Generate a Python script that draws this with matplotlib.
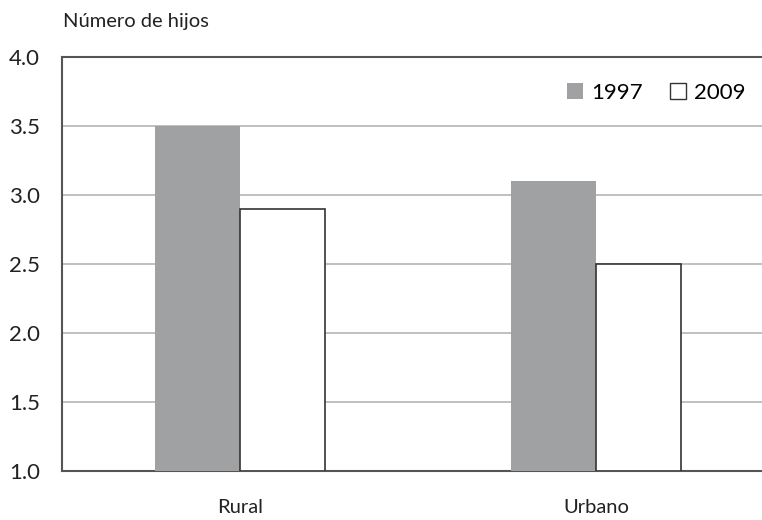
import matplotlib
matplotlib.use('Agg')
import matplotlib.pyplot as plt
import numpy as np
from matplotlib.patches import Patch

categories = ['Rural', 'Urbano']
series_names = ['1997', '2009']
values_1997 = [3.5, 3.1]
values_2009 = [2.9, 2.5]
y_ticks = [1.0, 1.5, 2.0, 2.5, 3.0, 3.5, 4.0]

plt.rcParams['font.family'] = ['Lato', 'DejaVu Sans']

fig = plt.figure(figsize=(7.62, 5.2), dpi=100)
ax = fig.add_axes([62 / 762, 49 / 520, 700 / 762, 414 / 520])

x = np.arange(len(categories))
width = 0.239
bottom = 1.0
ax.bar(x - width / 2, [v - bottom for v in values_1997], width, bottom=bottom,
       color='#a0a1a3', edgecolor='none', zorder=3)
ax.bar(x + width / 2, [v - bottom for v in values_2009], width, bottom=bottom,
       color='white', edgecolor='#333333', linewidth=1.2, zorder=3)

ax.set_xlim(-0.5, 1.466)
ax.set_ylim(1.0, 4.0)
ax.set_yticks(y_ticks)
ax.set_yticklabels([f'{t:.1f}' for t in y_ticks], fontsize=16, color='#222222')
ax.set_xticks(x)
ax.set_xticklabels(categories, fontsize=14.5, color='#222222')
ax.tick_params(axis='both', length=0)
ax.tick_params(axis='y', pad=16)
ax.tick_params(axis='x', pad=20)

ax.yaxis.grid(True, color='#b5b5b5', linewidth=1.2, zorder=0)
ax.set_axisbelow(True)
ax.spines['right'].set_visible(False)
for side in ['top', 'left', 'bottom']:
    ax.spines[side].set_color('#555555')
    ax.spines[side].set_linewidth(1.5)

fig.text(63 / 762, 1 - 22 / 520, 'Número de hijos', fontsize=14.5, color='#222222',
         ha='left', va='center')

handles = [Patch(facecolor='#a0a1a3', edgecolor='none'),
           Patch(facecolor='white', edgecolor='#333333', linewidth=1.0)]
ax.legend(handles, series_names, loc='upper right', bbox_to_anchor=(1.005, 0.986),
          ncol=2, frameon=False, fontsize=16, handlelength=0.75, handleheight=0.75,
          handletextpad=0.35, columnspacing=1.2)

plt.savefig('out.png', dpi=100, facecolor='white')
